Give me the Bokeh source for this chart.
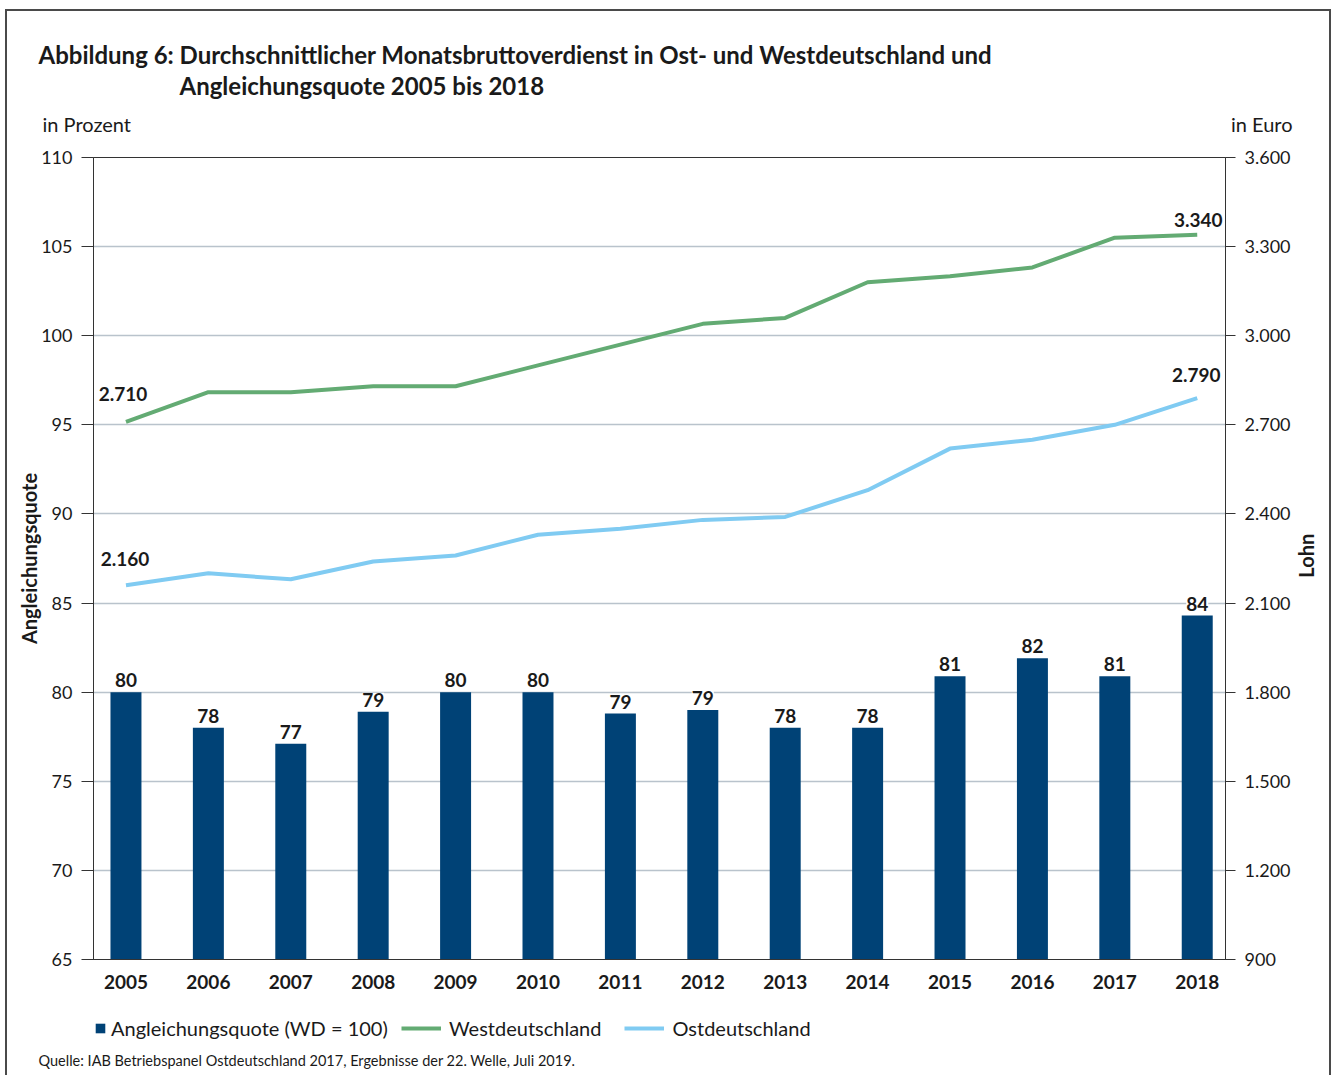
from math import pi
from bokeh.plotting import figure
from bokeh.layouts import column, row
from bokeh.models import (Range1d, LinearAxis, FixedTicker, ColumnDataSource,
                          LabelSet, Legend, LegendItem)
from bokeh.core.properties import value
from bokeh.embed import file_html
from bokeh.resources import INLINE

# ---------------- data ----------------
years = list(range(2005, 2019))
quote = [80, 78, 77.1, 78.9, 80, 80, 78.8, 79, 78, 78, 80.9, 81.9, 80.9, 84.3]
quote_labels = ["80", "78", "77", "79", "80", "80", "79", "79", "78", "78", "81", "82", "81", "84"]
west = [2710, 2810, 2810, 2830, 2830, 2900, 2970, 3040, 3060, 3180, 3200, 3230, 3330, 3340]
ost = [2160, 2200, 2180, 2240, 2260, 2330, 2350, 2380, 2390, 2480, 2620, 2650, 2700, 2790]
pct_ticks = [65, 70, 75, 80, 85, 90, 95, 100, 105, 110]
euro_ticks = [900, 1200, 1500, 1800, 2100, 2400, 2700, 3000, 3300, 3600]

title_1 = "Abbildung 6: Durchschnittlicher Monatsbruttoverdienst in Ost- und Westdeutschland und"
title_2 = "Angleichungsquote 2005 bis 2018"
unit_left = "in Prozent"
unit_right = "in Euro"
axis_left = "Angleichungsquote"
axis_right = "Lohn"
legend_labels = ["Angleichungsquote (WD = 100)", "Westdeutschland", "Ostdeutschland"]
source_text = "Quelle: IAB Betriebspanel Ostdeutschland 2017, Ergebnisse der 22. Welle, Juli 2019."


def de(v):
    return f"{int(round(v)):,}".replace(",", ".")


FONT = "Lato"
TXT = "#1a1a1a"
BAR = "#004276"
GREEN = "#63ab73"
BLUE = "#80cbf2"
GRID = "#b9c3cc"
AX = "#333333"
FRAME = "#4a4a4a"
NAN = float("nan")

TOTAL_W = 1322


def text_fig(w, h, flip=False):
    yr = Range1d(h, 0) if flip else Range1d(0, h)
    f = figure(width=w, height=h, x_range=Range1d(0, w), y_range=yr,
               output_backend="svg", toolbar_location=None,
               x_axis_location=None, y_axis_location=None,
               min_border=0, min_border_left=0, min_border_right=0,
               min_border_top=0, min_border_bottom=0,
               outline_line_color=None, background_fill_color="white",
               border_fill_color="white")
    f.xgrid.visible = False
    f.ygrid.visible = False
    return f


def put(f, text, x, y, size, bold=False, align="left"):
    src = ColumnDataSource(dict(x=[x], y=[y], t=[text]))
    f.add_layout(LabelSet(x="x", y="y", text="t", source=src,
                          text_align=align, text_baseline="alphabetic",
                          text_font=value(FONT),
                          text_font_style="bold" if bold else "normal",
                          text_font_size=size, text_color=TXT))


# ---------------- header ----------------
HEAD_H = 129
header = text_fig(TOTAL_W, HEAD_H)
put(header, title_1, 31, HEAD_H - 52, "24px", bold=True)
put(header, title_2, 172, HEAD_H - 83, "24px", bold=True)
put(header, unit_left, 35, HEAD_H - 120, "20px")
put(header, unit_right, 1285, HEAD_H - 120, "20px", align="right")

# ---------------- main chart ----------------
MAIN_W, MAIN_H = 1286, 860
p = figure(width=MAIN_W, height=MAIN_H,
           x_range=Range1d(2004.606, 2018.343), y_range=Range1d(65, 110),
           output_backend="svg", toolbar_location=None,
           min_border_left=86, min_border_right=68,
           min_border_top=17, min_border_bottom=41,
           background_fill_color="white", border_fill_color="white",
           outline_line_color=AX, outline_line_width=1)
p.extra_y_ranges = {"euro": Range1d(900, 3600)}

xa = p.xaxis[0]
xa.ticker = FixedTicker(ticks=years)
xa.major_label_overrides = {y: str(y) for y in years}
xa.major_tick_out = 0
xa.major_tick_in = 0
xa.minor_tick_out = 0
xa.minor_tick_in = 0
xa.axis_line_color = AX
xa.major_label_standoff = 15
xa.major_label_text_font = FONT
xa.major_label_text_font_style = "bold"
xa.major_label_text_font_size = "19px"
xa.major_label_text_color = TXT

ya = p.yaxis[0]
ya.ticker = FixedTicker(ticks=pct_ticks)
ya.major_tick_out = 12
ya.major_tick_in = 0
ya.minor_tick_out = 0
ya.minor_tick_in = 0
ya.major_tick_line_color = AX
ya.axis_line_color = AX
ya.major_label_standoff = 9
ya.major_label_text_font = FONT
ya.major_label_text_font_size = "18px"
ya.major_label_text_color = TXT
ya.axis_label = axis_left
ya.axis_label_text_font = FONT
ya.axis_label_text_font_style = "bold"
ya.axis_label_text_font_size = "20px"
ya.axis_label_text_color = TXT
ya.axis_label_standoff = -3

ra = LinearAxis(y_range_name="euro", ticker=FixedTicker(ticks=euro_ticks),
                major_label_overrides={t: de(t) for t in euro_ticks})
ra.major_tick_out = 10
ra.major_tick_in = 0
ra.minor_tick_out = 0
ra.minor_tick_in = 0
ra.major_tick_line_color = AX
ra.axis_line_color = AX
ra.major_label_standoff = 9
ra.major_label_text_font = FONT
ra.major_label_text_font_size = "18px"
ra.major_label_text_color = TXT
p.add_layout(ra, "right")

p.xgrid.grid_line_color = None
p.ygrid.ticker = FixedTicker(ticks=pct_ticks)
p.ygrid.grid_line_color = GRID
p.ygrid.grid_line_width = 1.5

bar_src = ColumnDataSource(dict(x=years, top=quote, label=quote_labels))
p.vbar(x="x", top="top", bottom=65, width=0.376, source=bar_src,
       fill_color=BAR, line_color=None)
p.add_layout(LabelSet(x="x", y="top", text="label", source=bar_src,
                      text_align="center", text_baseline="alphabetic", y_offset=5,
                      text_font=value(FONT), text_font_style="bold",
                      text_font_size="19px", text_color=TXT,
                      background_fill_color="white"))

p.line(years, west, y_range_name="euro", line_width=4, line_color=GREEN, line_join="round")
p.line(years, ost, y_range_name="euro", line_width=4, line_color=BLUE, line_join="round")


def end_label(x, y, dx, dy):
    src = ColumnDataSource(dict(x=[x], y=[y], t=[de(y)]))
    p.add_layout(LabelSet(x="x", y="y", text="t", source=src, y_range_name="euro",
                          x_offset=dx, y_offset=dy,
                          text_align="center", text_baseline="alphabetic",
                          text_font=value(FONT), text_font_style="bold",
                          text_font_size="19px", text_color=TXT))


end_label(years[0], west[0], -3, 21)
end_label(years[0], ost[0], -1, 19)
end_label(years[-1], west[-1], 1, 8)
end_label(years[-1], ost[-1], -1, 16)

# right axis title (reads bottom to top)
SIDE_W = TOTAL_W - MAIN_W
side = text_fig(SIDE_W, MAIN_H, flip=True)
side.text(x=[12], y=[427], text=[axis_right], text_align="center", text_baseline="middle",
          angle=pi / 2, text_font=value(FONT), text_font_style="bold",
          text_font_size="20px", text_color=TXT)

# ---------------- footer: legend + source ----------------
FOOT_H = 75
footer = text_fig(TOTAL_W, FOOT_H)
k_bar = footer.vbar(x=[NAN], top=[NAN], bottom=[NAN], width=1, fill_color=BAR,
                    line_color=None)
k_west = footer.line(x=[NAN, NAN], y=[NAN, NAN], line_width=4, line_color=GREEN)
k_ost = footer.line(x=[NAN, NAN], y=[NAN, NAN], line_width=4, line_color=BLUE)
common = dict(orientation="horizontal", padding=0, margin=0, border_line_color=None,
              background_fill_alpha=0, label_text_font=FONT, label_text_font_size="20px",
              label_text_color=TXT)
leg_a = Legend(items=[LegendItem(label=legend_labels[0], renderers=[k_bar])],
               location=(87, 35), glyph_width=12, glyph_height=12, label_standoff=5,
               **common)
leg_b = Legend(items=[LegendItem(label=legend_labels[1], renderers=[k_west]),
                      LegendItem(label=legend_labels[2], renderers=[k_ost])],
               location=(394, 35), glyph_width=40, glyph_height=12, label_standoff=8,
               spacing=23, **common)
footer.add_layout(leg_a)
footer.add_layout(leg_b)
put(footer, source_text, 31, FOOT_H - 65, "14.5px")

layout = column(header, row(p, side, spacing=0), footer, spacing=0)
layout.styles = {"border-left": f"2px solid {FRAME}", "border-top": f"2px solid {FRAME}",
                 "border-right": f"2px solid {FRAME}", "margin-left": "5px",
                 "margin-top": "9px"}

open("out.html", "w").write(file_html(layout, INLINE))
